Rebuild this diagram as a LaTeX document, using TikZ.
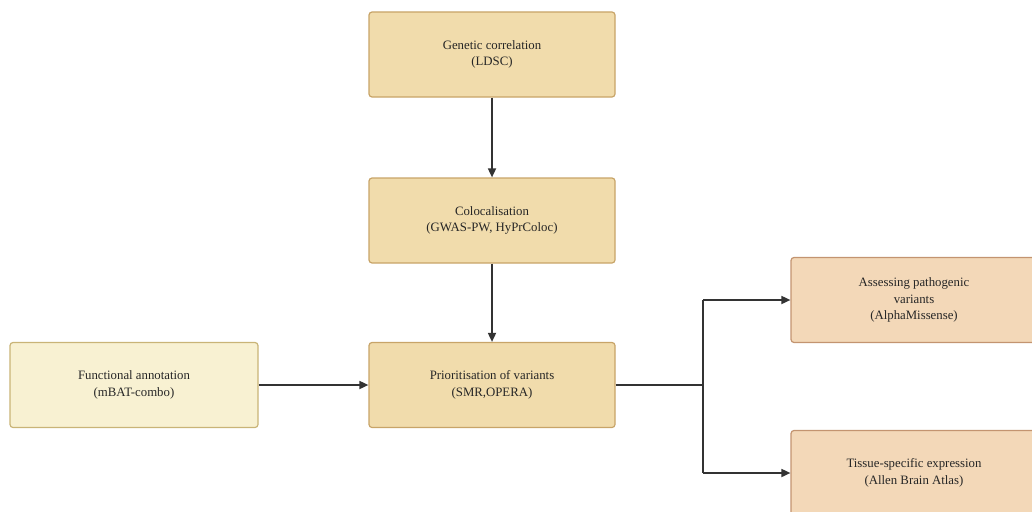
\documentclass[tikz,border=0pt]{standalone}
\usepackage{fontspec}
\setmainfont{Liberation Serif}
\usetikzlibrary{arrows.meta}
\definecolor{tanfill}{HTML}{F1DCAC}
\definecolor{tandraw}{HTML}{C8A468}
\definecolor{palefill}{HTML}{F8F1D2}
\definecolor{paledraw}{HTML}{C9B477}
\definecolor{peachfill}{HTML}{F3D8B8}
\definecolor{peachdraw}{HTML}{C39470}
\definecolor{linec}{HTML}{333333}
\tikzset{
  box/.style={draw=tandraw, fill=tanfill, line width=1.2pt, rounded corners=3pt,
    minimum width=246pt, minimum height=85pt, align=center, inner sep=2pt,
    font=\fontsize{12.8}{16.5}\selectfont, text=black!85},
  pale/.style={box, draw=paledraw, fill=palefill, minimum width=248pt},
  peach/.style={box, draw=peachdraw, fill=peachfill, minimum width=246pt},
  conn/.style={draw=linec, line width=1.7pt, -{Triangle[length=9pt,width=8pt]}},
  seg/.style={draw=linec, line width=1.7pt}
}
\begin{document}
\begin{tikzpicture}[x=1pt,y=-1pt]
\useasboundingbox (0,0) rectangle (1032,511);
\node[box] (gen) at (492,54.5) {Genetic correlation\\(LDSC)};
\node[box] (coloc) at (492,220.5) {Colocalisation\\(GWAS-PW, HyPrColoc)};
\node[box] (prio) at (492,385) {Prioritisation of variants\\(SMR,OPERA)};
\node[pale] (func) at (134,385) {Functional annotation\\(mBAT-combo)};
\node[peach] (path) at (914,300) {Assessing pathogenic\\variants\\(AlphaMissense)};
\node[peach] (tis) at (914,473) {Tissue-specific expression\\(Allen Brain Atlas)};
\coordinate (br) at (703,385);
\coordinate (bt) at (703,300);
\coordinate (bb) at (703,473);
\draw[conn] (gen) -- (coloc);
\draw[conn] (coloc) -- (prio);
\draw[conn] (func) -- (prio);
\draw[seg] (prio.east) -- (br);
\draw[seg] (bt) -- (bb);
\draw[conn] (bt) -- (path.west);
\draw[conn] (bb) -- (tis.west);
\end{tikzpicture}
\end{document}
